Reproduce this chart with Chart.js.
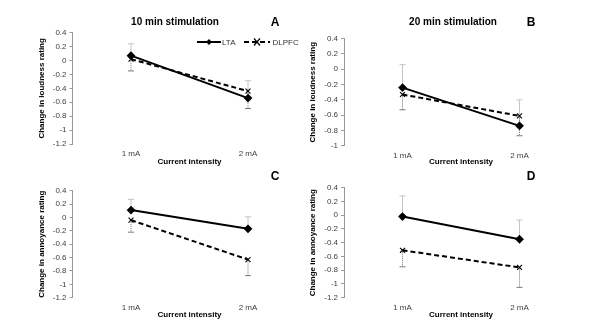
<!DOCTYPE html>
<html>
<head>
<meta charset="utf-8">
<script src="https://cdn.jsdelivr.net/npm/chart.js@4.4.0/dist/chart.umd.min.js"></script>
<style>
    body { margin: 0; background: #fff; }
    #wrap { position: relative; width: 612px; height: 323px; overflow: hidden; }
    #wrap canvas { position: absolute; left: 0; top: 0; }
    .lbl { position: absolute; transform: translate(-50%, -50%); line-height: 1; white-space: nowrap;
           font-family: "Liberation Sans", Arial, sans-serif; color: #000; }
    .ttl { font-size: 10px; font-weight: bold; }
    .let { font-size: 12px; font-weight: bold; }
    #legend { position: absolute; left: 197px; top: 37px; font: 8px "Liberation Sans", Arial, sans-serif;
              color: #333; display: flex; align-items: center; }
    #legend svg { display: block; }
</style>
</head>
<body>
<div id="wrap">
    <canvas id="chartA" width="612" height="323"></canvas>
    <canvas id="chartB" width="612" height="323"></canvas>
    <canvas id="chartC" width="612" height="323"></canvas>
    <canvas id="chartD" width="612" height="323"></canvas>

    <div class="lbl ttl" style="left:175px; top:22px;">10 min stimulation</div>
    <div class="lbl let" style="left:275px; top:22px;">A</div>
    <div class="lbl ttl" style="left:453px; top:22px;">20 min stimulation</div>
    <div class="lbl let" style="left:531px; top:22px;">B</div>
    <div class="lbl let" style="left:275px; top:176px;">C</div>
    <div class="lbl let" style="left:531px; top:176px;">D</div>

    <div id="legend">
        <svg width="24" height="10"><line x1="0" y1="5" x2="24" y2="5" stroke="#000" stroke-width="2"/><polygon points="12,2 15,5 12,8 9,5" fill="#000"/></svg>
        <span style="margin-left:1px;">LTA</span>
        <svg width="26" height="10" style="margin-left:9px;"><line x1="0" y1="5" x2="26" y2="5" stroke="#000" stroke-width="2" stroke-dasharray="5,3"/><path d="M10,1.5 L16,8.5 M16,1.5 L10,8.5" stroke="#000" stroke-width="1.2"/></svg>
        <span style="margin-left:2px;">DLPFC</span>
    </div>
</div>
<script>
const categories = ['1 mA', '2 mA'];

// A: loudness, 10 min
const ltaA = [0.07, -0.54];
const dlpfcA = [0.02, -0.44];
const ltaUpA = [0.24, -0.29];
const dlpfcLowA = [-0.15, -0.69];

// B: loudness, 20 min
const ltaB = [-0.24, -0.74];
const dlpfcB = [-0.33, -0.61];
const ltaUpB = [0.06, -0.40];
const dlpfcLowB = [-0.53, -0.87];

// C: annoyance, 10 min
const ltaC = [0.11, -0.17];
const dlpfcC = [-0.04, -0.63];
const ltaUpC = [0.27, 0.01];
const dlpfcLowC = [-0.22, -0.87];

// D: annoyance, 20 min
const ltaD = [-0.02, -0.35];
const dlpfcD = [-0.51, -0.76];
const ltaUpD = [0.28, -0.07];
const dlpfcLowD = [-0.75, -1.05];

const yMinAB = [-1.2, -1];
const yMax = 0.4;
const yStep = 0.2;

Chart.defaults.font.family = '"Liberation Sans", Arial, sans-serif';
Chart.defaults.color = '#404040';

// error bars: LTA upward (light, solid), DLPFC downward (dotted)
const errorBars = {
    id: 'errorBars',
    beforeDatasetsDraw(chart, args, opts) {
        const ctx = chart.ctx;
        const x = chart.scales.x, y = chart.scales.y;
        const draw = (vals, ends, color, dash) => {
            ctx.save();
            ctx.strokeStyle = color;
            ctx.lineWidth = 1;
            ctx.setLineDash(dash);
            vals.forEach((v, i) => {
                const px = x.getPixelForValue(i);
                const p0 = y.getPixelForValue(v);
                const p1 = y.getPixelForValue(ends[i]);
                ctx.beginPath();
                ctx.moveTo(px, p0);
                ctx.lineTo(px, p1);
                ctx.stroke();
                ctx.setLineDash([]);
                ctx.beginPath();
                ctx.moveTo(px - 3, p1);
                ctx.lineTo(px + 3, p1);
                ctx.stroke();
                ctx.setLineDash(dash);
            });
            ctx.restore();
        };
        draw(opts.lta, opts.ltaUp, '#c4c4c4', []);
        draw(opts.dlpfc, opts.dlpfcLow, '#7a7a7a', [1, 1]);
    }
};

function makePanel(id, lta, dlpfc, ltaUp, dlpfcLow, yMin, yTitle, box) {
    // box: left/right/top/bottom of the plot area, yTitleX, xTitleY
    const padLeft = box.left < 300 ? 0 : 300;
    const xh = box.xTitleY - box.bottom + 4.8;
    new Chart(document.getElementById(id), {
        type: 'line',
        data: {
            labels: categories,
            datasets: [{
                label: 'LTA',
                data: lta,
                borderColor: '#000',
                backgroundColor: '#000',
                borderWidth: 2,
                pointStyle: 'rectRot',
                pointRadius: 3,
                pointBackgroundColor: '#000',
                tension: 0
            }, {
                label: 'DLPFC',
                data: dlpfc,
                borderColor: '#000',
                borderWidth: 2,
                borderDash: [5, 3],
                pointStyle: 'crossRot',
                pointRadius: 3.5,
                pointBorderWidth: 1.1,
                tension: 0
            }]
        },
        options: {
            responsive: false,
            animation: false,
            layout: {
                padding: {
                    left: padLeft,
                    right: 612 - box.right,
                    top: box.top,
                    bottom: 323 - box.bottom - xh
                }
            },
            plugins: {
                legend: { display: false },
                tooltip: { enabled: false },
                errorBars: { lta: lta, dlpfc: dlpfc, ltaUp: ltaUp, dlpfcLow: dlpfcLow }
            },
            scales: {
                x: {
                    offset: true,
                    grid: { display: false, drawTicks: false },
                    border: { display: false },
                    ticks: { font: { size: 8 }, padding: 5, maxRotation: 0 },
                    title: {
                        display: true,
                        text: 'Current intensity',
                        color: '#000',
                        font: { size: 8, weight: 'bold' },
                        padding: { top: 0, bottom: 0 }
                    },
                    afterFit: (scale) => { scale.height = xh; }
                },
                y: {
                    min: yMin,
                    max: yMax,
                    ticks: {
                        stepSize: yStep,
                        font: { size: 8 },
                        padding: 3,
                        callback: (v) => String(+v.toFixed(1))
                    },
                    grid: { drawOnChartArea: false, drawTicks: true, tickLength: 3, color: '#9a9a9a' },
                    border: { display: true, color: '#9a9a9a' },
                    title: {
                        display: true,
                        text: yTitle,
                        color: '#000',
                        font: { size: 8, weight: 'bold' },
                        padding: { top: box.yTitleX - padLeft - 4.8, bottom: 0 }
                    },
                    afterFit: (scale) => { scale.width = box.left - padLeft; }
                }
            }
        },
        plugins: [errorBars]
    });
}

makePanel('chartA', ltaA, dlpfcA, ltaUpA, dlpfcLowA, yMinAB[0], 'Change in loudness rating',
    { left: 72.5, right: 306.5, top: 32.7, bottom: 144, yTitleX: 42, xTitleY: 162 });
makePanel('chartB', ltaB, dlpfcB, ltaUpB, dlpfcLowB, yMinAB[1], 'Change in loudness rating',
    { left: 344, right: 578, top: 38.7, bottom: 145.7, yTitleX: 312.7, xTitleY: 162 });
makePanel('chartC', ltaC, dlpfcC, ltaUpC, dlpfcLowC, -1.2, 'Change in annoyance rating',
    { left: 72.5, right: 306.5, top: 190.7, bottom: 297.7, yTitleX: 42, xTitleY: 315 });
makePanel('chartD', ltaD, dlpfcD, ltaUpD, dlpfcLowD, -1.2, 'Change in annoyance rating',
    { left: 344, right: 578, top: 187.7, bottom: 297.7, yTitleX: 312.7, xTitleY: 315 });
</script>
</body>
</html>
